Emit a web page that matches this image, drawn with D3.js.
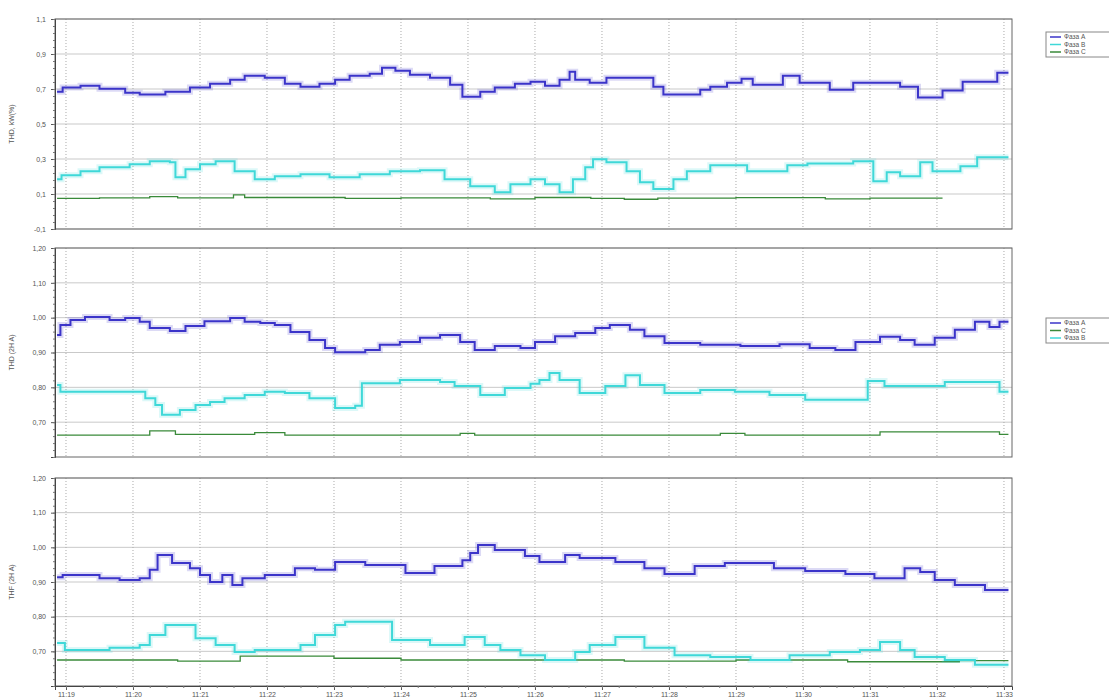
<!DOCTYPE html>
<html><head><meta charset="utf-8">
<script src="https://cdn.jsdelivr.net/npm/d3@7"></script>
<style>body{margin:0;background:#fff;overflow:hidden;} text{font-family:"Liberation Sans",Arial,sans-serif;}</style>
</head><body><svg id="c" width="1109" height="698"></svg>
<script>
// ---------- DATA ----------
const baseTime = "2000-01-01T11:19:00";
const xTickLabels = ["11:19","11:20","11:21","11:22","11:23","11:24","11:25","11:26","11:27","11:28","11:29","11:30","11:31","11:32","11:33"];
const seriesNames = ["Фаза A","Фаза B","Фаза C"];
const panelTitles = ["THD, kW(%)","THD (2H A)","THF (2H A)"];
const yTicks1 = [-0.1,0.1,0.3,0.5,0.7,0.9,1.1];
const yTicks2 = [0.7,0.8,0.9,1.0,1.1,1.2];
const yTicks3 = [0.7,0.8,0.9,1.0,1.1,1.2];

// [seconds from 11:19:00, value] — step starts, last point = end
const blue1 = [[-8,0.685],[-3,0.708],[13,0.719],[30,0.702],[53,0.679],[66,0.668],[89,0.685],[111,0.708],[129,0.730],[147,0.753],[160,0.776],[178,0.764],[196,0.730],[210,0.713],[227,0.730],[241,0.753],[254,0.776],[272,0.787],[283,0.821],[295,0.804],[308,0.782],[326,0.764],[344,0.725],[355,0.656],[371,0.685],[384,0.708],[402,0.730],[416,0.742],[429,0.719],[442,0.753],[451,0.799],[456,0.753],[469,0.736],[484,0.764],[526,0.713],[535,0.668],[568,0.696],[577,0.713],[592,0.736],[605,0.759],[615,0.725],[642,0.776],[657,0.736],[684,0.696],[705,0.736],[747,0.713],[763,0.651],[785,0.691],[803,0.742],[834,0.793],[844,0.793]];
const cyan1 = [[-8,0.184],[-4,0.207],[13,0.230],[30,0.253],[57,0.270],[75,0.287],[93,0.281],[98,0.196],[107,0.241],[120,0.270],[134,0.287],[151,0.230],[169,0.184],[187,0.201],[210,0.213],[236,0.196],[263,0.213],[290,0.230],[317,0.236],[339,0.184],[362,0.145],[384,0.110],[398,0.156],[416,0.184],[429,0.156],[442,0.110],[454,0.184],[465,0.253],[472,0.298],[484,0.281],[502,0.230],[514,0.167],[526,0.128],[544,0.184],[556,0.230],[577,0.264],[610,0.230],[646,0.264],[664,0.275],[705,0.287],[723,0.173],[735,0.224],[747,0.201],[765,0.281],[776,0.230],[801,0.258],[816,0.310],[844,0.310]];
const green1 = [[-8,0.075],[30,0.078],[75,0.085],[100,0.078],[150,0.095],[160,0.080],[250,0.075],[300,0.078],[380,0.072],[420,0.080],[470,0.075],[500,0.070],[530,0.077],[600,0.079],[680,0.072],[720,0.076],[785,0.076]];

const blue2 = [[-8,0.950],[-5,0.979],[4,0.993],[17,1.002],[39,0.993],[53,0.999],[66,0.988],[75,0.970],[93,0.962],[107,0.976],[124,0.990],[147,0.999],[160,0.988],[174,0.985],[187,0.979],[201,0.959],[218,0.936],[232,0.913],[241,0.901],[268,0.907],[281,0.922],[299,0.930],[317,0.942],[335,0.950],[353,0.930],[366,0.907],[384,0.919],[407,0.913],[420,0.930],[438,0.947],[456,0.956],[474,0.970],[487,0.979],[505,0.965],[518,0.947],[536,0.927],[568,0.922],[604,0.919],[639,0.924],[666,0.913],[689,0.907],[707,0.930],[729,0.945],[747,0.936],[760,0.922],[778,0.942],[796,0.965],[814,0.988],[827,0.973],[836,0.988],[844,0.988]];
const cyan2 = [[-8,0.807],[-5,0.787],[71,0.769],[80,0.749],[86,0.721],[102,0.735],[116,0.749],[129,0.758],[142,0.769],[160,0.778],[178,0.787],[196,0.784],[218,0.769],[241,0.741],[259,0.747],[265,0.812],[299,0.821],[335,0.815],[348,0.804],[371,0.778],[393,0.798],[416,0.810],[424,0.821],[433,0.841],[442,0.821],[460,0.784],[483,0.804],[501,0.835],[514,0.807],[536,0.784],[568,0.792],[599,0.787],[630,0.778],[662,0.764],[718,0.818],[733,0.804],[787,0.815],[836,0.787],[844,0.787]];
const green2 = [[-8,0.663],[75,0.675],[98,0.665],[169,0.670],[196,0.663],[353,0.668],[366,0.663],[586,0.668],[608,0.663],[729,0.672],[836,0.665],[844,0.665]];

const blue3 = [[-8,0.914],[-3,0.920],[30,0.911],[48,0.906],[66,0.911],[75,0.935],[82,0.978],[95,0.955],[111,0.940],[120,0.920],[129,0.900],[140,0.920],[149,0.891],[158,0.911],[178,0.920],[205,0.940],[223,0.935],[241,0.958],[268,0.949],[304,0.926],[330,0.946],[355,0.963],[362,0.984],[369,1.007],[384,0.992],[411,0.975],[424,0.958],[447,0.978],[460,0.969],[492,0.958],[518,0.940],[536,0.923],[563,0.946],[590,0.955],[634,0.940],[662,0.932],[698,0.923],[724,0.911],[751,0.940],[765,0.929],[778,0.906],[796,0.891],[823,0.877],[844,0.877]];
const cyan3 = [[-8,0.724],[-1,0.704],[39,0.710],[66,0.718],[75,0.747],[89,0.776],[116,0.738],[134,0.718],[151,0.698],[169,0.704],[210,0.718],[223,0.747],[241,0.776],[250,0.785],[292,0.733],[326,0.718],[357,0.741],[375,0.718],[389,0.704],[407,0.689],[429,0.675],[456,0.698],[469,0.718],[492,0.741],[518,0.710],[545,0.689],[577,0.684],[613,0.675],[648,0.689],[684,0.698],[711,0.704],[729,0.727],[747,0.704],[760,0.684],[787,0.675],[814,0.661],[844,0.661]];
const green3 = [[-8,0.675],[100,0.672],[156,0.686],[240,0.680],[300,0.675],[500,0.672],[600,0.675],[700,0.670],[800,0.673],[844,0.673]];

// ---------- LAYOUT ----------
const svg = d3.select("#c");
const W = 1109, H = 698;
const L = 55, R = 1012;
const panels = [
  {top:19, bottom:229, domain:[-0.1,1.1], ticks:yTicks1, minor:0.04, fmt:",.1f", title:panelTitles[0], series:[blue1,cyan1,green1]},
  {top:248, bottom:457, domain:[0.6,1.2], ticks:yTicks2, minor:0.02, fmt:",.2f", title:panelTitles[1], series:[blue2,cyan2,green2]},
  {top:478, bottom:686, domain:[0.6,1.2], ticks:yTicks3, minor:0.02, fmt:",.2f", title:panelTitles[2], series:[blue3,cyan3,green3]}
];
const colors = ["#3b34c9","#3fd8d8","#3a8a3a"];
const widths = [2, 2, 1.3];

const locale = d3.formatLocale({decimal:",", thousands:" ", grouping:[3], currency:["",""], minus:"-"});
const base = new Date(baseTime);
const tAt = s => new Date(base.getTime() + s*1000);
const x = d3.scaleTime().domain([tAt(-9.85), tAt(847.2)]).range([L, R]);
const majorTimes = xTickLabels.map((_,i) => tAt(i*60));

svg.append("rect").attr("width",W).attr("height",H).attr("fill","#fff");

panels.forEach((p, pi) => {
  const y = d3.scaleLinear().domain(p.domain).range([p.bottom, p.top]);
  const g = svg.append("g");
  // horizontal grid
  g.selectAll(".hg").data(p.ticks).join("line")
    .attr("x1",L).attr("x2",R).attr("y1",d=>y(d)).attr("y2",d=>y(d))
    .attr("stroke","#c9c9c9").attr("stroke-width",1);
  // vertical dotted grid
  g.selectAll(".vg").data(majorTimes).join("line")
    .attr("x1",d=>x(d)).attr("x2",d=>x(d)).attr("y1",p.top).attr("y2",p.bottom)
    .attr("stroke","#aaa").attr("stroke-width",1).attr("stroke-dasharray","1,2");
  // frame
  g.append("rect").attr("x",L).attr("y",p.top).attr("width",R-L).attr("height",p.bottom-p.top)
    .attr("fill","none").attr("stroke","#666").attr("stroke-width",1);
  // y axis
  const minorVals = d3.range(p.domain[0], p.domain[1]+1e-9, p.minor);
  const ax = d3.axisLeft(y).tickValues(p.ticks).tickFormat(locale.format(p.fmt)).tickSize(4).tickPadding(5);
  const axG = g.append("g").attr("transform",`translate(${L},0)`).call(ax);
  axG.select(".domain").attr("stroke","#444");
  axG.selectAll(".tick line").attr("stroke","#555");
  axG.selectAll("text").attr("font-size",7).attr("fill","#555");
  g.append("g").attr("transform",`translate(${L},0)`)
    .call(d3.axisLeft(y).tickValues(minorVals).tickSize(2).tickFormat(""))
    .call(s=>s.select(".domain").remove())
    .selectAll("line").attr("stroke","#777");
  // title
  g.append("text").attr("transform",`translate(14,${(p.top+p.bottom)/2}) rotate(-90)`)
    .attr("text-anchor","middle").attr("font-size",7).attr("fill","#555").text(p.title);
  // lines
  const line = d3.line().x(d=>x(tAt(d[0]))).y(d=>y(d[1])).curve(d3.curveStepAfter);
  const order = [2,1,0];
  order.forEach(si => {
    if (si < 2) {
      g.append("path").attr("d",line(p.series[si])).attr("fill","none")
        .attr("stroke",colors[si]).attr("stroke-opacity",0.18).attr("stroke-width",6);
    }
    g.append("path").attr("d",line(p.series[si])).attr("fill","none")
      .attr("stroke",colors[si]).attr("stroke-width",widths[si]);
  });
});

// bottom x axis
const xa = d3.axisBottom(x).tickValues(majorTimes).tickFormat((d,i)=>xTickLabels[i]).tickSize(4).tickPadding(2);
const xg = svg.append("g").attr("transform",`translate(0,${panels[2].bottom})`).call(xa);
xg.select(".domain").attr("stroke","#444");
xg.selectAll(".tick line").attr("stroke","#555");
xg.selectAll("text").attr("font-size",7).attr("fill","#555");
svg.append("g").attr("transform",`translate(0,${panels[2].bottom})`)
  .call(d3.axisBottom(x).tickValues(d3.range(-0,845,15).map(tAt)).tickSize(2).tickFormat(""))
  .call(s=>s.select(".domain").remove()).selectAll("line").attr("stroke","#777");

// legends
function legend(y0, order){
  const g = svg.append("g");
  g.append("rect").attr("x",1046).attr("y",y0).attr("width",75).attr("height",25)
    .attr("fill","#fff").attr("stroke","#888");
  order.forEach((si,i)=>{
    const yy = y0+5+i*7.5;
    g.append("line").attr("x1",1050).attr("x2",1061).attr("y1",yy).attr("y2",yy)
      .attr("stroke",colors[si]).attr("stroke-width",1.5);
    g.append("text").attr("x",1064).attr("y",yy+2.3).attr("font-size",6.5).attr("fill","#555").text(seriesNames[si]);
  });
}
legend(32,[0,1,2]);
legend(318,[0,2,1]);
</script></body></html>
